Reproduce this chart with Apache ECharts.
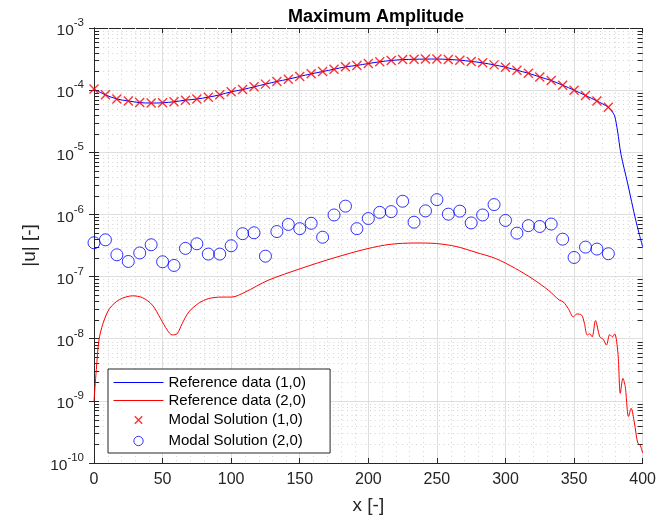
<!DOCTYPE html>
<html>
<head>
<meta charset="utf-8">
<script src="https://cdn.jsdelivr.net/npm/echarts@6/dist/echarts.min.js"></script>
<style>
  html, body { margin: 0; padding: 0; background: #fff; }
  #chart { width: 659px; height: 522px; }
</style>
</head>
<body>
<div id="chart"></div>
<script>
// x stations of the modal solution markers
var modalX = [0, 8.33, 16.67, 25, 33.33, 41.67, 50, 58.33, 66.67, 75, 83.33, 91.67,
  100, 108.33, 116.67, 125, 133.33, 141.67, 150, 158.33, 166.67, 175, 183.33, 191.67,
  200, 208.33, 216.67, 225, 233.33, 241.67, 250, 258.33, 266.67, 275, 283.33, 291.67,
  300, 308.33, 316.67, 325, 333.33, 341.67, 350, 358.33, 366.67, 375];

// modal solution (1,0)
var modal10 = [1.04e-4, 8.4e-5, 7.2e-5, 6.7e-5, 6.3e-5, 6.2e-5, 6.25e-5, 6.5e-5, 6.9e-5, 7.2e-5, 7.7e-5, 8.4e-5,
  9.4e-5, 1.02e-4, 1.13e-4, 1.25e-4, 1.38e-4, 1.5e-4, 1.66e-4, 1.83e-4, 1.99e-4, 2.17e-4, 2.37e-4, 2.5e-4,
  2.68e-4, 2.86e-4, 3.0e-4, 3.1e-4, 3.14e-4, 3.16e-4, 3.17e-4, 3.12e-4, 3.04e-4, 2.9e-4, 2.75e-4, 2.55e-4,
  2.34e-4, 2.09e-4, 1.87e-4, 1.63e-4, 1.43e-4, 1.2e-4, 1.0e-4, 8.2e-5, 6.7e-5, 5.3e-5];

// modal solution (2,0)
var modal20 = [3.5e-7, 3.9e-7, 2.24e-7, 1.75e-7, 2.4e-7, 3.25e-7, 1.73e-7, 1.51e-7, 2.84e-7, 3.37e-7, 2.3e-7, 2.3e-7,
  3.13e-7, 4.9e-7, 5.07e-7, 2.13e-7, 5.3e-7, 6.9e-7, 5.9e-7, 7.2e-7, 4.3e-7, 9.8e-7, 1.36e-6, 5.9e-7,
  8.6e-7, 1.08e-6, 1.11e-6, 1.63e-6, 7.5e-7, 1.14e-6, 1.73e-6, 1.01e-6, 1.13e-6, 7.3e-7, 9.8e-7, 1.44e-6,
  8.0e-7, 5.0e-7, 6.6e-7, 6.4e-7, 7.0e-7, 4.0e-7, 2.03e-7, 2.98e-7, 2.77e-7, 2.33e-7];

// reference (1,0) past the last marker
var ref10TailX = [377.5, 379.5, 381.7, 384.2, 389, 395, 400];
var ref10TailY = [4.6e-5, 3.9e-5, 2.2e-5, 9.3e-6, 3.2e-6, 8.0e-7, 3.0e-7];

// reference (2,0)
var ref20X = [0, 1.7, 3.6, 6.5, 11.3, 18.6, 28.2, 35.4, 42.6, 48.6, 53.4, 57, 60.6, 64.2, 69.1, 76.3, 83.5, 93.1,
  100.4, 110, 126.9, 150.9, 175, 199, 215.9, 234, 249.6, 264, 278.5, 292.9, 307.3, 319.4, 331.4, 339.1, 342.2,
  345.8, 349.5, 351.9, 355.5, 357.5, 359.6, 361.5, 363.2, 365.6, 368.8, 371.2, 373.6, 376, 378, 379.6, 382,
  383.7, 385.6, 387.3, 389.7, 391.6, 394, 396.4, 398.1, 400];
var ref20Y = [1.0e-9, 3.2e-9, 9.5e-9, 1.74e-8, 3.05e-8, 4.27e-8, 4.9e-8, 4.57e-8, 3.47e-8, 2.09e-8, 1.38e-8, 1.15e-8,
  1.2e-8, 1.74e-8, 2.69e-8, 3.72e-8, 4.42e-8, 4.68e-8, 4.68e-8, 5.6e-8, 8.7e-8, 1.35e-7, 2.0e-7, 2.8e-7, 3.3e-7,
  3.47e-7, 3.4e-7, 3.05e-7, 2.45e-7, 1.95e-7, 1.35e-7, 9.3e-8, 6.0e-8, 4.2e-8, 3.9e-8, 3.05e-8, 2.24e-8, 2.5e-8,
  2.4e-8, 1.78e-8, 1.15e-8, 1.2e-8, 1.07e-8, 1.95e-8, 1.07e-8, 9.8e-9, 7.9e-9, 1.17e-8, 1.07e-8, 1.2e-8, 5.8e-9,
  1.32e-9, 2.3e-9, 1.7e-9, 5.6e-10, 7.6e-10, 4.4e-10, 2.1e-10, 1.95e-10, 1.45e-10];

var xMinorTicks = [10, 20, 30, 40, 60, 70, 80, 90, 110, 120, 130, 140, 160, 170, 180, 190, 210, 220, 230, 240,
  260, 270, 280, 290, 310, 320, 330, 340, 360, 370, 380, 390];
var yMinorMantissa = [2, 3, 4, 5, 6, 7, 8, 9];
var yDecades = [-10, -9, -8, -7, -6, -5, -4];

var ink = '#262626';
var minorColor = '#d2d2d2';
var font = '"Liberation Sans", Arial, Helvetica, sans-serif';

function zip(xs, ys) {
  var out = [];
  for (var i = 0; i < xs.length; i++) out.push([xs[i], ys[i]]);
  return out;
}

var yMinor = [];
yDecades.forEach(function(d) {
  yMinorMantissa.forEach(function(m) { yMinor.push([0, m * Math.pow(10, d)]); });
});

var chart = echarts.init(document.getElementById('chart'));

function renderMinorY(params, api) {
  var cs = params.coordSys;
  var p = api.coord([0, api.value(1)]);
  var y = Math.round(p[1]) + 0.5;
  return {
    type: 'group',
    children: [
      { type: 'line', shape: { x1: cs.x, y1: y, x2: cs.x + cs.width, y2: y },
        style: { stroke: minorColor, lineWidth: 1, lineDash: [1, 3.6] } },
      { type: 'line', shape: { x1: cs.x, y1: y, x2: cs.x + 5, y2: y },
        style: { stroke: ink, lineWidth: 1 } },
      { type: 'line', shape: { x1: cs.x + cs.width - 5, y1: y, x2: cs.x + cs.width, y2: y },
        style: { stroke: ink, lineWidth: 1 } }
    ]
  };
}

function renderMinorX(params, api) {
  var cs = params.coordSys;
  var p = api.coord([api.value(0), 1e-5]);
  var x = Math.round(p[0]) + 0.5;
  return {
    type: 'line',
    shape: { x1: x, y1: cs.y, x2: x, y2: cs.y + cs.height },
    style: { stroke: minorColor, lineWidth: 1, lineDash: [1, 3.6] }
  };
}

function logLabel(v) {
  var e = Math.round(Math.log(v) / Math.LN10);
  return '{b|10}{s|' + e + '}';
}

chart.setOption({
  animation: false,
  backgroundColor: '#fff',
  textStyle: { fontFamily: font },
  title: {
    text: 'Maximum Amplitude',
    left: 371,
    top: 3,
    textAlign: 'center',
    textStyle: { fontSize: 18, fontWeight: 'bold', color: '#000', fontFamily: font }
  },
  grid: { left: 94, right: 11, top: 28, bottom: 59 },
  legend: {
    orient: 'vertical',
    left: 108,
    top: 369,
    itemWidth: 50,
    itemHeight: 13,
    itemGap: 3,
    padding: [6, 24, 3, 5],
    borderColor: ink,
    borderWidth: 1,
    borderRadius: 0,
    backgroundColor: '#fff',
    textStyle: { fontSize: 15, lineHeight: 15, color: '#000', fontFamily: font },
    data: [
      { name: 'Reference data (1,0)', itemStyle: { opacity: 0 }, lineStyle: { color: '#0000ff', width: 1 } },
      { name: 'Reference data (2,0)', itemStyle: { opacity: 0 }, lineStyle: { color: '#ff0000', width: 1 } },
      { name: 'Modal Solution (1,0)', icon: 'path://M0,0M14,14M3,3L11,11M11,3L3,11',
        itemStyle: { color: 'none', borderColor: '#ff0000', borderWidth: 1.4 } },
      { name: 'Modal Solution (2,0)', icon: 'path://M0,0M14,14M2,7A5,5 0 1,1 12,7A5,5 0 1,1 2,7Z',
        itemStyle: { color: 'none', borderColor: '#0000ff', borderWidth: 1 } }
    ]
  },
  xAxis: [{
    type: 'value',
    min: 0, max: 400, interval: 50,
    name: 'x [-]',
    nameLocation: 'middle',
    nameGap: 33,
    nameTextStyle: { fontSize: 19, color: ink, fontFamily: font },
    axisLine: { lineStyle: { color: ink, width: 1 } },
    axisTick: { inside: true, length: 5, lineStyle: { color: ink } },
    axisLabel: { fontSize: 16, color: ink, margin: 9, fontFamily: font },
    splitLine: { show: true, lineStyle: { color: '#dedede', width: 1 } }
  }, {
    type: 'value',
    position: 'top',
    min: 0, max: 400, interval: 50,
    axisLine: { lineStyle: { color: ink, width: 1 } },
    axisTick: { inside: true, length: 5, lineStyle: { color: ink } },
    axisLabel: { show: false },
    splitLine: { show: false }
  }],
  yAxis: [{
    type: 'log',
    logBase: 10,
    min: 1e-10, max: 1e-3, interval: 1,
    name: '|u| [-]',
    nameLocation: 'middle',
    nameGap: 55,
    nameTextStyle: { fontSize: 19, color: ink, fontFamily: font },
    axisLine: { show: true, lineStyle: { color: ink, width: 1 } },
    axisTick: { inside: true, length: 5, lineStyle: { color: ink } },
    axisLabel: {
      margin: 10,
      formatter: logLabel,
      rich: {
        b: { fontSize: 15.5, color: ink, lineHeight: 22, verticalAlign: 'bottom', fontFamily: font },
        s: { fontSize: 11.5, color: ink, lineHeight: 10, verticalAlign: 'top', fontFamily: font }
      }
    },
    splitLine: { show: true, lineStyle: { color: '#dedede', width: 1 } }
  }, {
    type: 'log',
    logBase: 10,
    position: 'right',
    min: 1e-10, max: 1e-3, interval: 1,
    axisLine: { show: true, lineStyle: { color: ink, width: 1 } },
    axisTick: { inside: true, length: 5, lineStyle: { color: ink } },
    axisLabel: { show: false },
    splitLine: { show: false }
  }],
  series: [
    {
      type: 'custom', name: 'minorY', silent: true, z: 1,
      renderItem: renderMinorY, data: yMinor
    },
    {
      type: 'custom', name: 'minorX', silent: true, z: 1,
      renderItem: renderMinorX, data: xMinorTicks.map(function(v) { return [v]; })
    },
    {
      name: 'Reference data (1,0)',
      type: 'line',
      data: zip(modalX, modal10).concat(zip(ref10TailX, ref10TailY)),
      symbol: 'none',
      smooth: 0.3,
      lineStyle: { color: '#0000ff', width: 1 },
      itemStyle: { color: '#0000ff' },
      z: 3
    },
    {
      name: 'Reference data (2,0)',
      type: 'line',
      data: zip(ref20X, ref20Y),
      symbol: 'none',
      smooth: 0.3,
      lineStyle: { color: '#ff0000', width: 1 },
      itemStyle: { color: '#ff0000' },
      z: 3
    },
    {
      name: 'Modal Solution (1,0)',
      type: 'scatter',
      data: zip(modalX, modal10),
      symbol: 'path://M0,0L10,10M10,0L0,10',
      symbolSize: 9,
      itemStyle: { color: 'none', borderColor: '#ff0000', borderWidth: 1.4 },
      z: 4
    },
    {
      name: 'Modal Solution (2,0)',
      type: 'scatter',
      data: zip(modalX, modal20),
      symbol: 'circle',
      symbolSize: 12,
      itemStyle: { color: 'rgba(0,0,0,0)', borderColor: '#0000ff', borderWidth: 1 },
      z: 4
    }
  ]
});
window.addEventListener('resize', function() { chart.resize(); });
</script>
</body>
</html>
